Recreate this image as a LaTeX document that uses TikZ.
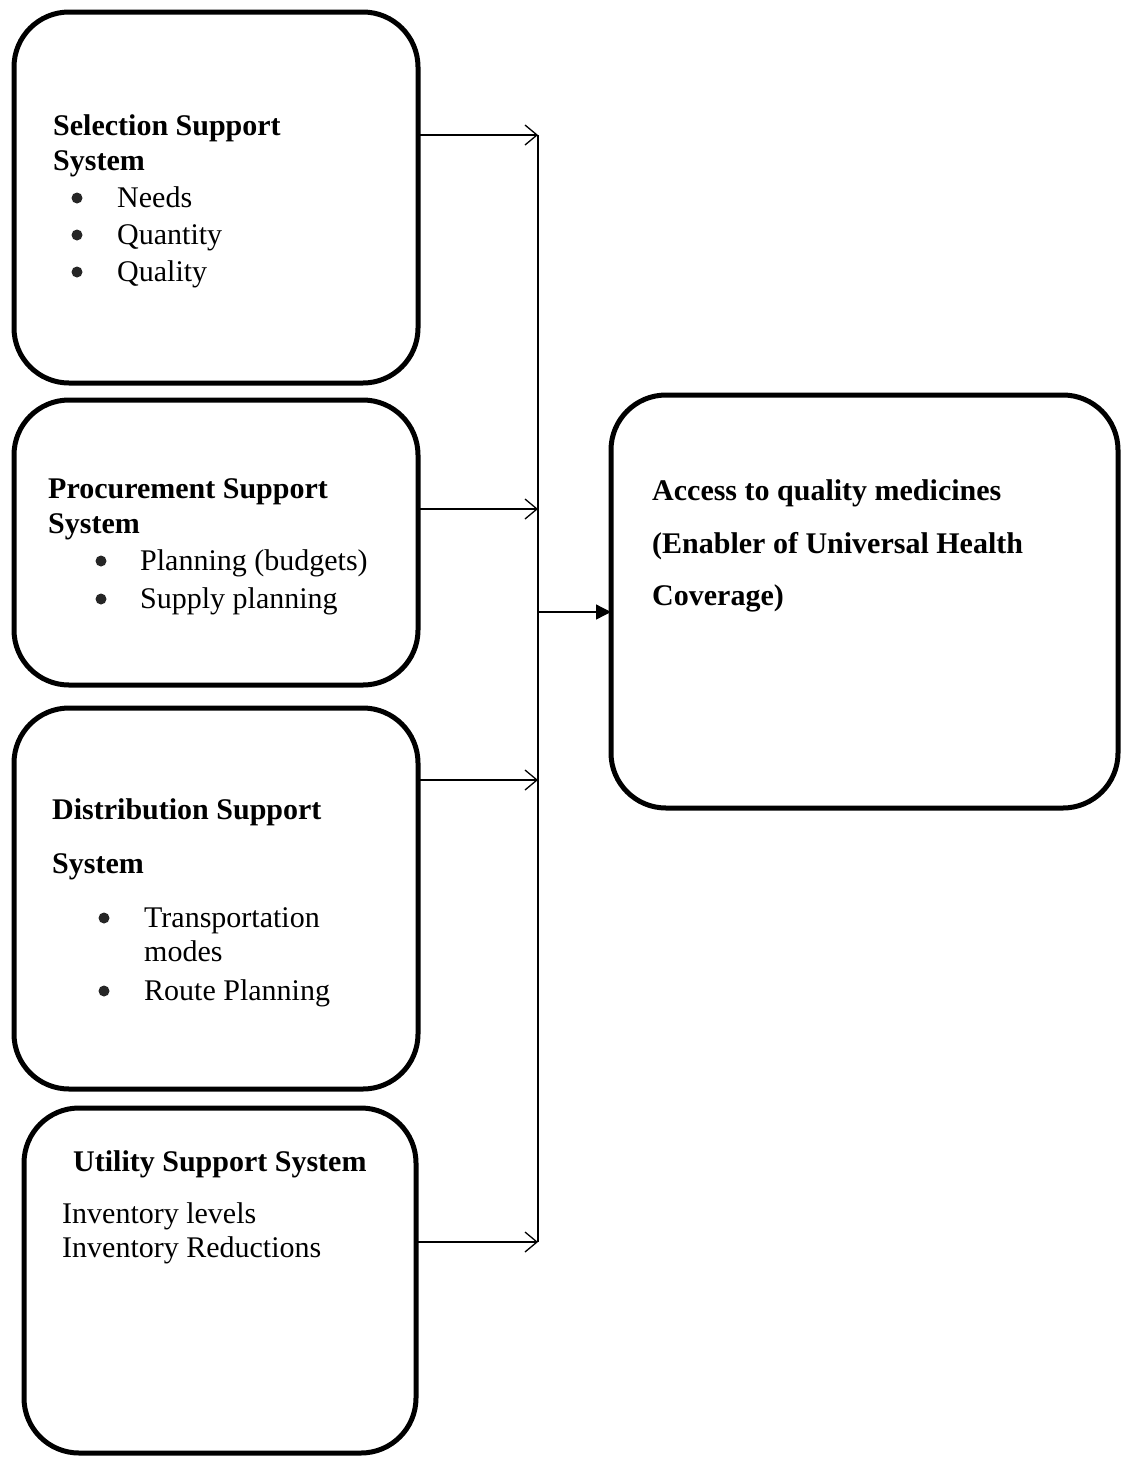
\documentclass[tikz,border=0pt]{standalone}
\usepackage{fontspec}
\setmainfont{Liberation Serif}
\usetikzlibrary{arrows.meta}
\begin{document}
\begin{tikzpicture}[x=1pt,y=-1pt,
  box/.style={draw, line width=5pt, rounded corners=55pt, inner sep=0pt, outer sep=0pt},
  txt/.style={anchor=base west, inner sep=0pt, font=\fontsize{30}{36}\selectfont},
  btxt/.style={anchor=base west, inner sep=0pt, font=\fontsize{30}{36}\selectfont\bfseries},
  bul/.style={circle, fill=black!85, inner sep=0pt, minimum size=11pt},
  conn/.style={line width=1.3pt, -{Straight Barb[length=12pt,width=20pt,line width=1.3pt]}},
  main/.style={line width=1.3pt, -{Triangle[length=15pt,width=15pt]}},
  trunk/.style={line width=1.3pt}]
\useasboundingbox (0,0) rectangle (1126,1457);
% boxes
\node[box, minimum width=404pt, minimum height=371pt] (b1) at (216,197.5) {};
\node[box, minimum width=404pt, minimum height=285pt] (b2) at (216,542.5) {};
\node[box, minimum width=404pt, minimum height=381pt] (b3) at (216,898.5) {};
\node[box, minimum width=392pt, minimum height=345pt] (b4) at (220,1280.5) {};
\node[box, minimum width=507pt, minimum height=413pt] (b5) at (864.5,601.5) {};
% box 1 text
\node[btxt] (t1a) at (53,135) {Selection Support};
\node[btxt] (t1b) at (53,170) {System};
\node[bul] (u1a) at (77,198) {};
\node[txt] (t1c) at (117,207) {Needs};
\node[bul] (u1b) at (77,235) {};
\node[txt] (t1d) at (117,244) {Quantity};
\node[bul] (u1c) at (77,272) {};
\node[txt] (t1e) at (117,281) {Quality};
% box 2 text
\node[btxt] (t2a) at (48,498) {Procurement Support};
\node[btxt] (t2b) at (48,533) {System};
\node[bul] (u2a) at (101,561) {};
\node[txt] (t2c) at (140,570) {Planning (budgets)};
\node[bul] (u2b) at (101,599) {};
\node[txt] (t2d) at (140,608) {Supply planning};
% box 3 text
\node[btxt] (t3a) at (52,819) {Distribution Support};
\node[btxt] (t3b) at (52,873) {System};
\node[bul] (u3a) at (104,918) {};
\node[txt] (t3c) at (144,927) {Transportation};
\node[txt] (t3d) at (144,961) {modes};
\node[bul] (u3b) at (104,991) {};
\node[txt] (t3e) at (144,1000) {Route Planning};
% box 4 text
\node[btxt] (t4a) at (73,1171) {Utility Support System};
\node[txt] (t4b) at (62,1223) {Inventory levels};
\node[txt] (t4c) at (62,1257) {Inventory Reductions};
% box 5 text
\node[btxt] (t5a) at (652,500) {Access to quality medicines};
\node[btxt] (t5b) at (652,553) {(Enabler of Universal Health};
\node[btxt] (t5c) at (652,605) {Coverage)};
% connectors
\coordinate (j1) at (538,135);
\coordinate (j2) at (538,509);
\coordinate (j3) at (538,780);
\coordinate (j4) at (538,1242);
\coordinate (jo) at (538,612);
\draw[trunk] (j1) -- (j4);
\draw[conn] (b1.east |- j1) -- (j1);
\draw[conn] (b2.east |- j2) -- (j2);
\draw[conn] (b3.east |- j3) -- (j3);
\draw[conn] (b4.east |- j4) -- (j4);
\draw[main] (jo) -- (b5.west |- jo);
\end{tikzpicture}
\end{document}
